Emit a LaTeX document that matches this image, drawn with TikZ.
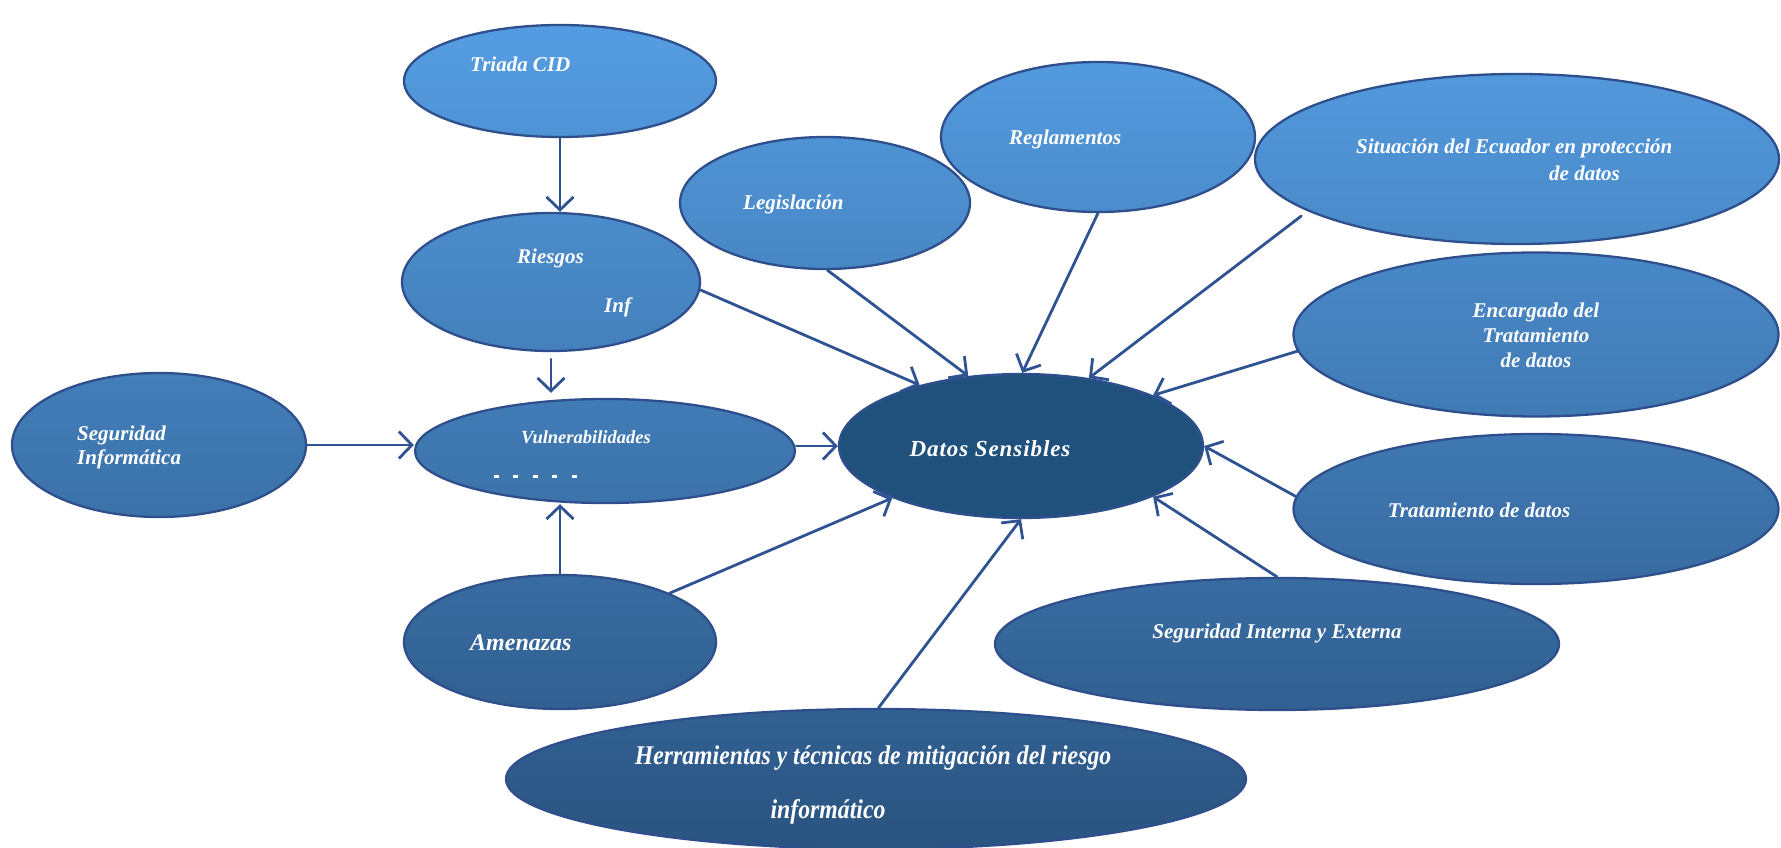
\documentclass[tikz,border=0pt]{standalone}
\usepackage{fontspec}
\setmainfont{Liberation Serif}
\newfontfamily\spacedfont[LetterSpace=4]{Liberation Serif}
\newfontfamily\narrowfont[FakeStretch=0.88]{Liberation Serif}
\usetikzlibrary{shapes.geometric,arrows.meta}
\definecolor{gA}{HTML}{569FE5}
\definecolor{gB}{HTML}{2A5481}
\definecolor{edge}{HTML}{2E4F8C}
\definecolor{lc}{HTML}{2F5292}
\definecolor{core}{HTML}{20507C}
\tikzset{
  bub/.style 2 args={ellipse, draw=edge, line width=2.3pt, inner sep=0pt,
    top color=gA!#1!gB, bottom color=gA!#2!gB},
  lbl/.style={text=white, inner sep=0pt, font=\bfseries\itshape\fontsize{21}{25}\selectfont},
  conn/.style={draw=lc, line width=2.8pt, line cap=round,
    -{Straight Barb[length=13pt,width=27pt,line width=2.8pt]}},
  tick/.style={fill=white, draw=none}
}
\begin{document}
\begin{tikzpicture}[x=1pt,y=-1pt]
\useasboundingbox (0,0) rectangle (1781,848);

% ellipses
\node[bub={97}{84}, minimum width=312pt, minimum height=112pt] (triada) at (560,81) {};
\node[bub={75}{59}, minimum width=298pt, minimum height=138pt] (riesgos) at (551,282) {};
\node[bub={53}{41}, minimum width=380pt, minimum height=104pt] (vuln) at (605,451) {};
\node[bub={56}{39}, minimum width=294pt, minimum height=144pt] (seginf) at (159,445) {};
\node[bub={32}{16}, minimum width=312pt, minimum height=134pt] (amenazas) at (560,642) {};
\node[bub={84}{68}, minimum width=290pt, minimum height=132pt] (legis) at (825,203) {};
\node[bub={93}{75}, minimum width=314pt, minimum height=150pt] (reglam) at (1098,137) {};
\node[bub={91}{71}, minimum width=524pt, minimum height=170pt] (situacion) at (1517,159) {};
\node[bub={70}{51}, minimum width=485pt, minimum height=164pt] (encargado) at (1536,334.5) {};
\node[bub={49}{31}, minimum width=485pt, minimum height=150pt] (tratam) at (1536,509) {};
\node[bub={32}{16}, minimum width=564pt, minimum height=132pt] (segint) at (1277,644) {};
\node[bub={16}{0}, minimum width=740pt, minimum height=140pt] (herram) at (876,779) {};
\node[ellipse, draw=edge, line width=2.3pt, fill=core, inner sep=0pt,
      minimum width=364pt, minimum height=144pt] (datos) at (1021,446) {};

% labels
\node[lbl, anchor=west] (tTriada) at (470,64) {Triada CID};
\node[lbl, anchor=west] (tRiesgos) at (517,258) {Riesgos};
\node[lbl, anchor=west] (tInf) at (604,307) {Inf};
\node[lbl, anchor=west, font=\bfseries\itshape\fontsize{18.5}{22}\selectfont] (tVuln) at (521,437) {Vulnerabilidades};
\node[lbl, anchor=west, align=left, font=\bfseries\itshape\fontsize{21}{24}\selectfont] (tSegInf) at (77,447) {Seguridad\\Informática};
\node[lbl, anchor=west, font=\bfseries\itshape\fontsize{24}{28}\selectfont] (tAmen) at (470,643) {Amenazas};
\node[lbl, anchor=west] (tLegis) at (743,204) {Legislación};
\node[lbl, anchor=west] (tReglam) at (1009,139) {Reglamentos};
\node[lbl, anchor=west] (tSit1) at (1356,148) {Situación del Ecuador en protección};
\node[lbl, anchor=west] (tSit2) at (1549,173) {de datos};
\node[lbl, align=center] (tEnc) at (1536,335) {Encargado del\\Tratamiento\\de datos};
\node[lbl] (tTrat) at (1479,510) {Tratamiento de datos};
\node[lbl] (tSegInt) at (1277,633) {Seguridad Interna y Externa};
\node[lbl, font=\narrowfont\bfseries\itshape\fontsize{27}{30}\selectfont] (tHerr1) at (873,758) {Herramientas y técnicas de mitigación del riesgo};
\node[lbl, font=\narrowfont\bfseries\itshape\fontsize{27}{30}\selectfont] (tHerr2) at (828,812) {informático};
\node[lbl, font=\spacedfont\bfseries\itshape\fontsize{23}{28}\selectfont] (tDatos) at (990,449) {Datos Sensibles};

% leftover list marks inside the vulnerabilities bubble
\foreach \x in {496,515.5,535,554.5,574}
  \fill[tick] (\x-2.5,475) -- (\x+2.5,475) -- (\x+2.5,478) -- (\x-2.5,478) -- cycle;

% connectors
\draw[conn] (triada.south) -- (triada.south |- riesgos.north);
\draw[conn, shorten <=7pt, shorten >=5pt] (riesgos.south) -- (riesgos.south |- vuln.north);
\draw[conn] (amenazas.north) -- (amenazas.north |- vuln.south);
\draw[conn] (seginf.east) -- (vuln.west |- seginf.east);
\draw[conn] (vuln.east |- datos.west) -- (datos.west);
\draw[conn] (riesgos.-3) -- (datos.149);
\draw[conn] (legis.-88) -- (datos.127);
\draw[conn] (reglam.-90) -- (datos.89);
\draw[conn, shorten <=8pt] (situacion.-166) -- (datos.45);
\draw[conn] (encargado.-176) -- (datos.21);
\draw[conn] (tratam.177) -- (datos.0);
\draw[conn] (segint.90) -- (datos.-21);
\draw[conn] (herram.88) -- (datos.-90);
\draw[conn] (amenazas.24) -- (datos.-158);
\end{tikzpicture}
\end{document}
